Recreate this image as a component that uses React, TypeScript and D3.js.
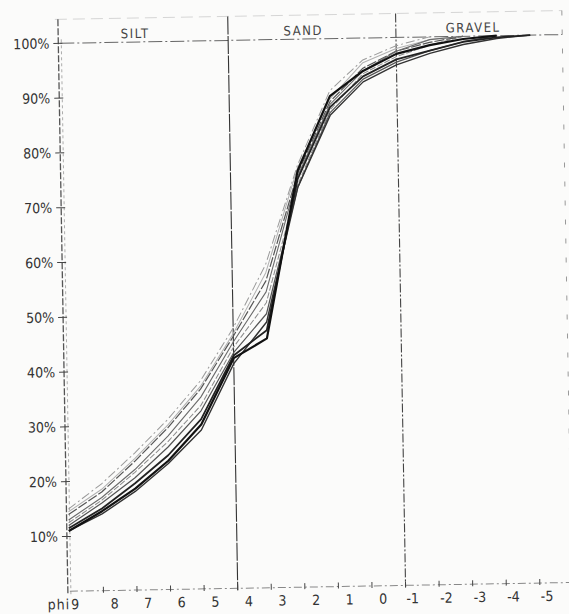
import React from 'react';
import * as d3 from 'd3';

// grain size classes along the phi scale
const phiValues = [9, 8, 7, 6, 5, 4, 3, 2, 1, 0, -1, -2, -3, -4, -5];
const phiTickLabels = ['9', '8', '7', '6', '5', '4', '3', '2', '1', '0', '-1', '-2', '-3', '-4', '-5'];
const percentTicks = [10, 20, 30, 40, 50, 60, 70, 80, 90, 100];
const classNames = ['SILT', 'SAND', 'GRAVEL'];
const classBounds = [4, -1];

// cumulative % per sample, read at each phi value
const sample1 = [11, 14.5, 18.5, 23.5, 30, 42, 45.5, 76, 89.5, 94, 97, 98.5, 99.5, 100];
const sample2 = [11.5, 15, 19.5, 24.5, 31, 42.5, 47, 74.5, 87.5, 93, 96, 97.5, 99, 99.7, 100];
const sample3 = [12, 16, 20.5, 26, 32.5, 43, 50, 73, 86.5, 92.5, 95.5, 97.5, 99, 100];
const sample4 = [12.5, 16.5, 21.5, 27, 33.5, 44, 52, 73.5, 87, 93.5, 96.5, 98.5, 100];
const sample5 = [13, 17, 22, 28, 35, 45, 54, 75, 88, 94, 97.5, 99.5, 100];
const sample6 = [15, 19.5, 25, 31, 38, 47.5, 59, 77, 90.5, 96, 98.5, 100];
const sample7 = [14, 18, 23.5, 29.5, 36.5, 46, 56, 75.5, 88.5, 94.5, 97.5, 99, 100];
const sample8 = [14.5, 18.5, 24, 30, 37, 46.5, 57.5, 76.5, 89, 95.5, 98, 99.5, 100];
const sample9 = [11, 14, 18, 23, 29, 41, 48.5, 73, 86, 92, 95, 97, 98.5, 99.5, 100];

const samples = [sample8, sample6, sample4, sample7, sample5, sample3, sample9, sample2, sample1];
const sampleStyles = [
  { stroke: '#b0b0b0', width: 1, dash: '' },
  { stroke: '#9a9a9a', width: 1, dash: '9,3,2,3' },
  { stroke: '#8a8a8a', width: 1, dash: '6,2' },
  { stroke: '#555', width: 1.2, dash: '10,2' },
  { stroke: '#6a6a6a', width: 1.1, dash: '' },
  { stroke: '#555', width: 1.2, dash: '' },
  { stroke: '#333', width: 1.4, dash: '' },
  { stroke: '#222', width: 1.8, dash: '' },
  { stroke: '#111', width: 2.2, dash: '' },
];

const W = 569;
const H = 614;
const left = 65;
const right = 567;
const top = 15;
const bottom = 587;

export default function App() {
  const x = d3.scaleLinear().domain([9, -5]).range([left, 535]);
  const y = d3.scaleLinear().domain([0, 100]).range([bottom, 39]);

  const line = d3
    .line<number>()
    .x((_, i) => x(phiValues[i]))
    .y(d => y(d));

  const font = '"DejaVu Sans Condensed", "DejaVu Sans", sans-serif';
  const labelX = [140, 308, 478];
  // plotter put the numbers a little right of each tick
  const labelOffset = (v: number) => (v === 9 ? 5 : v >= 0 ? 11 : 7);

  return (
    <svg
      width={W}
      height={H}
      style={{ position: 'absolute', left: 0, top: 0, display: 'block' }}
    >
      <rect width={W} height={H} fill="#fbfbfa" />
      <g transform="rotate(-1, 310, 310)">
        {/* frame */}
        <line x1={60} x2={right} y1={top} y2={top} stroke="#ccc" strokeWidth={0.8} strokeDasharray="12,6" />
        <line x1={right} x2={right} y1={top} y2={bottom} stroke="#999" strokeWidth={1} strokeDasharray="5,14" />
        <line x1={left - 2} x2={left - 2} y1={top} y2={bottom + 3} stroke="#555" strokeWidth={1.3} strokeDasharray="7,2" />
        <line x1={left + 1} x2={left + 1} y1={top + 20} y2={bottom + 3} stroke="#999" strokeWidth={0.8} strokeDasharray="3,3" />

        {/* 100% line and x axis */}
        <line x1={left} x2={right} y1={y(100)} y2={y(100)} stroke="#666" strokeWidth={1} strokeDasharray="14,3,2,3" />
        <line x1={left} x2={right} y1={bottom} y2={bottom} stroke="#888" strokeWidth={1} strokeDasharray="8,3,2,3" />

        {/* class boundaries */}
        {classBounds.map((b, i) => (
          <line
            key={b}
            x1={x(b)}
            x2={x(b)}
            y1={top}
            y2={bottom + 2}
            stroke={i === 0 ? '#333' : '#444'}
            strokeWidth={1.1}
            strokeDasharray={i === 0 ? '18,1.5' : '9,2,2,2'}
          />
        ))}
        {classNames.map((c, i) => (
          <text
            key={c}
            x={labelX[i]}
            y={35}
            textAnchor="middle"
            fontFamily={font}
            fontSize={13}
            letterSpacing={1.5}
            fill="#444"
          >
            {c}
          </text>
        ))}

        {/* y ticks */}
        {percentTicks.map(p => (
          <g key={p}>
            <line x1={left - 7} x2={left + 2} y1={y(p)} y2={y(p)} stroke="#444" strokeWidth={1} />
            <text
              x={54}
              y={y(p) + 5}
              textAnchor="end"
              fontFamily={font}
              fontSize={14}
              fill="#333"
            >
              {p}%
            </text>
          </g>
        ))}

        {/* x ticks */}
        {phiValues.map((v, i) => (
          <g key={v}>
            {i > 0 && (
              <line x1={x(v)} x2={x(v)} y1={bottom - 4} y2={bottom + 2} stroke="#444" strokeWidth={1} />
            )}
            <text
              x={x(v) + labelOffset(v)}
              y={605}
              textAnchor="middle"
              fontFamily={font}
              fontSize={14}
              fill="#333"
            >
              {phiTickLabels[i]}
            </text>
          </g>
        ))}
        <text x={x(9)} y={605} textAnchor="end" fontFamily={font} fontSize={14} letterSpacing={1} fill="#333">
          phi
        </text>

        {/* sample curves */}
        {samples.map((s, i) => (
          <path
            key={i}
            d={line(s) ?? ''}
            fill="none"
            stroke={sampleStyles[i].stroke}
            strokeWidth={sampleStyles[i].width}
            strokeDasharray={sampleStyles[i].dash || undefined}
            strokeLinejoin="round"
          />
        ))}
      </g>
    </svg>
  );
}
